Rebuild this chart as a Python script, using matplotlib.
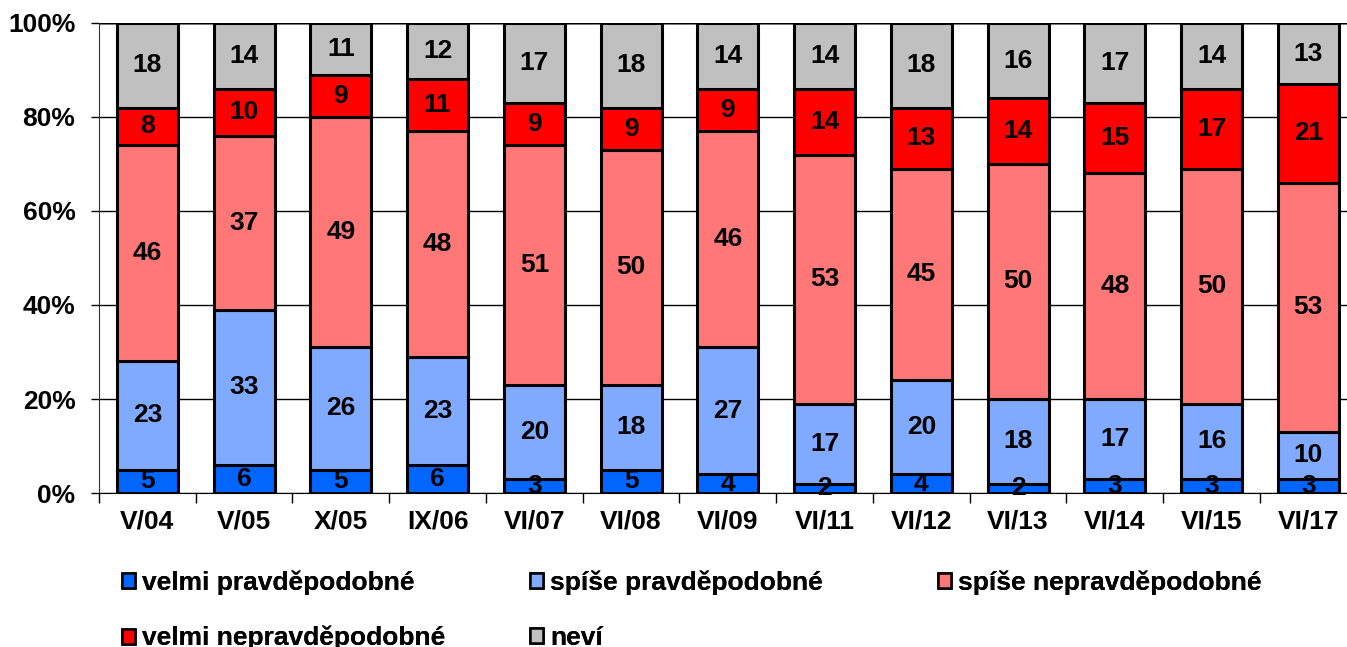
import numpy as np
import matplotlib.pyplot as plt
from matplotlib.patches import Patch

plt.rcParams['font.family'] = ['Liberation Sans', 'DejaVu Sans']

categories = ['V/04', 'V/05', 'X/05', 'IX/06', 'VI/07', 'VI/08', 'VI/09',
              'VI/11', 'VI/12', 'VI/13', 'VI/14', 'VI/15', 'VI/17']
velmi_pravd = [5, 6, 5, 6, 3, 5, 4, 2, 4, 2, 3, 3, 3]
spise_pravd = [23, 33, 26, 23, 20, 18, 27, 17, 20, 18, 17, 16, 10]
spise_neprav = [46, 37, 49, 48, 51, 50, 46, 53, 45, 50, 48, 50, 53]
velmi_neprav = [8, 10, 9, 11, 9, 9, 9, 14, 13, 14, 15, 17, 21]
nevi = [18, 14, 11, 12, 17, 18, 14, 14, 18, 16, 17, 14, 13]

series = [
    ('velmi pravděpodobné', velmi_pravd, '#0066FF'),
    ('spíše pravděpodobné', spise_pravd, '#80AAFF'),
    ('spíše nepravděpodobné', spise_neprav, '#FF7777'),
    ('velmi nepravděpodobné', velmi_neprav, '#FF0000'),
    ('neví', nevi, '#C0C0C0'),
]

FS = 19

fig = plt.figure(figsize=(13.47, 6.47), dpi=100)
ax = fig.add_axes([0.0735, 0.238, 0.9337, 0.7265])

x = np.arange(len(categories))
bottom = np.zeros(len(categories))
handles = []
for name, vals, col in series:
    vals = np.array(vals, dtype=float)
    ax.bar(x, vals, 0.63, bottom=bottom, color=col, edgecolor='black',
           linewidth=2.2, zorder=3)
    for xi, b, v in zip(x, bottom, vals):
        ax.text(xi, b + v / 2, f'{int(v)}', ha='center', va='center',
                fontsize=FS, fontweight='bold', zorder=4)
    bottom += vals
    handles.append(Patch(facecolor=col, edgecolor='black', linewidth=1.8, label=name))

ax.set_xlim(-0.5, len(categories) - 0.5)
ax.set_ylim(0, 100)
ax.set_yticks(range(0, 101, 20))
ax.set_yticklabels([f'{v}%' for v in range(0, 101, 20)], fontsize=FS, fontweight='bold')
ax.yaxis.grid(True, color='black', linewidth=1, zorder=0)
ax.tick_params(axis='y', length=6, width=1, pad=11)

ax.set_xticks(x)
ax.set_xticklabels(categories, fontsize=FS, fontweight='bold')
ax.tick_params(axis='x', length=0, pad=12)
ax.set_xticks(np.arange(-0.5, len(categories), 1), minor=True)
ax.tick_params(axis='x', which='minor', length=7, width=1)

for s in ['top', 'right']:
    ax.spines[s].set_visible(False)
ax.spines['left'].set_color('#333333')
ax.spines['bottom'].set_color('black')
ax.axhline(100, color='#888888', linewidth=2, zorder=1)

# legend laid out in three fixed-width columns, filled row by row
columns = [[0, 3], [1, 4], [2]]
col_x = [0.0906, 0.3935, 0.6964]
for idx, cx in zip(columns, col_x):
    lg = fig.legend([handles[i] for i in idx], [handles[i].get_label() for i in idx],
                    loc='upper left', bbox_to_anchor=(cx, 0.119),
                    frameon=False, prop={'size': FS, 'weight': 'bold'},
                    handlelength=0.5, handleheight=0.5, handletextpad=0.25,
                    labelspacing=1.19, borderaxespad=0, borderpad=0)
    fig.add_artist(lg)

fig.savefig('out.png', dpi=100)
